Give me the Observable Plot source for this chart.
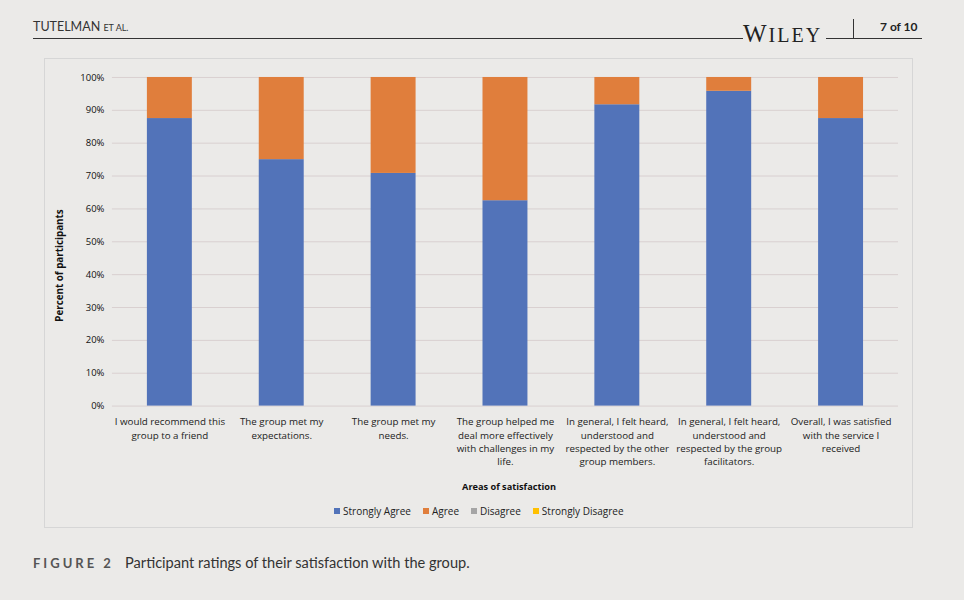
<!DOCTYPE html>
<html>
<head>
<meta charset="utf-8">
<script src="https://cdn.jsdelivr.net/npm/d3@7"></script>
<script src="https://cdn.jsdelivr.net/npm/@observablehq/plot@0.6"></script>
<style>
  html, body { margin: 0; padding: 0; }
  body { width: 964px; height: 600px; background: #ebeae8; position: relative; overflow: hidden; font-family: Lato, "Open Sans", sans-serif; color: #222; }
  .abs { position: absolute; }
  #box { left: 44px; top: 58px; width: 867px; height: 468px; border: 1px solid #d6d6d6; background: #ebeae8; }
  #box svg { position: absolute; left: 0; top: 0; }
  .legend span.sw { display: inline-block; width: 6px; height: 6px; margin-right: 3px; vertical-align: 1px; }
  .legend span.it { margin-right: 12px; }
</style>
</head>
<body>
<div class="abs" style="left:33px;top:19px;font-size:12.5px;color:#333;">TUTELMAN <span style="font-size:9px">ET AL.</span></div>
<div class="abs" style="left:33px;top:38px;width:710px;height:1px;background:#333;"></div>
<div class="abs" style="left:743px;top:21px;line-height:25px;font-family:'Liberation Serif',serif;font-size:25px;letter-spacing:2px;color:#222;">W<span style="font-size:20px">ILEY</span></div>
<div class="abs" style="left:826px;top:38px;width:96px;height:1px;background:#333;"></div>
<div class="abs" style="left:853px;top:19px;width:1px;height:19px;background:#333;"></div>
<div class="abs" style="left:880px;top:19px;font-size:12px;font-weight:bold;color:#222;">7 of 10</div>

<div id="box" class="abs">
  <div class="abs" style="left:-86px;top:200px;width:200px;text-align:center;transform:rotate(-90deg);font-family:'Open Sans',sans-serif;font-size:9.8px;font-weight:bold;color:#111;">Percent of participants</div>
  <div class="abs" style="left:0;top:421px;width:928px;text-align:center;font-family:'Open Sans',sans-serif;font-size:9.2px;font-weight:bold;color:#111;">Areas of satisfaction</div>
  <div id="legend" class="abs legend" style="left:289px;top:445px;font-family:'Open Sans',sans-serif;font-size:10px;color:#222;"></div>
</div>

<div class="abs" style="left:33px;top:554px;font-size:14.6px;color:#333;"><span style="letter-spacing:3px;font-weight:bold;color:#555;font-size:13px;">FIGURE 2</span>&nbsp;&nbsp;&nbsp;Participant ratings of their satisfaction with the group.</div>

<script>
const categories = [
  "I would recommend this\ngroup to a friend",
  "The group met my\nexpectations.",
  "The group met my\nneeds.",
  "The group helped me\ndeal more effectively\nwith challenges in my\nlife.",
  "In general, I felt heard,\nunderstood and\nrespected by the other\ngroup members.",
  "In general, I felt heard,\nunderstood and\nrespected by the group\nfacilitators.",
  "Overall, I was satisfied\nwith the service I\nreceived"
];
const ratings = ["Strongly Agree", "Agree", "Disagree", "Strongly Disagree"];
const colors = ["#5273b9", "#e07e3c", "#a5a5a5", "#ffc000"];
const stronglyAgree = [0.875, 0.75, 0.708, 0.625, 0.917, 0.958, 0.875];
const agree = [0.125, 0.25, 0.292, 0.375, 0.083, 0.042, 0.125];
const disagree = [0, 0, 0, 0, 0, 0, 0];
const stronglyDisagree = [0, 0, 0, 0, 0, 0, 0];
const yTicks = [0, 0.1, 0.2, 0.3, 0.4, 0.5, 0.6, 0.7, 0.8, 0.9, 1];

const series = [stronglyAgree, agree, disagree, stronglyDisagree];
const rows = [];
categories.forEach((c, i) => {
  ratings.forEach((r, j) => rows.push({category: c, rating: r, value: series[j][i]}));
});

const chart = Plot.plot({
  width: 868,
  height: 410,
  marginTop: 18,
  marginBottom: 63,
  marginLeft: 67,
  marginRight: 14,
  style: {fontFamily: "'Open Sans', sans-serif", background: "transparent", color: "#222"},
  x: {domain: categories, paddingInner: 0.6, paddingOuter: 0.3, label: null},
  y: {domain: [0, 1], label: null},
  color: {domain: ratings, range: colors},
  marks: [
    Plot.gridY(yTicks, {stroke: "#d9d0d0", strokeOpacity: 1}),
    Plot.barY(rows, {x: "category", y: "value", fill: "rating", order: ratings}),
    Plot.axisY({ticks: yTicks, tickFormat: d3.format(".0%"), tickSize: 0, tickPadding: 8, fontSize: 9.5, label: null, fill: "#111"}),
    Plot.axisX({tickSize: 0, tickPadding: 10, fontSize: 9.8, lineHeight: 1.35, label: null, fill: "#222"})
  ]
});
document.getElementById("box").appendChild(chart);

const leg = document.getElementById("legend");
ratings.forEach((r, j) => {
  const it = document.createElement("span");
  it.className = "it";
  it.innerHTML = `<span class="sw" style="background:${colors[j]}"></span>${r}`;
  leg.appendChild(it);
});
</script>
</body>
</html>
